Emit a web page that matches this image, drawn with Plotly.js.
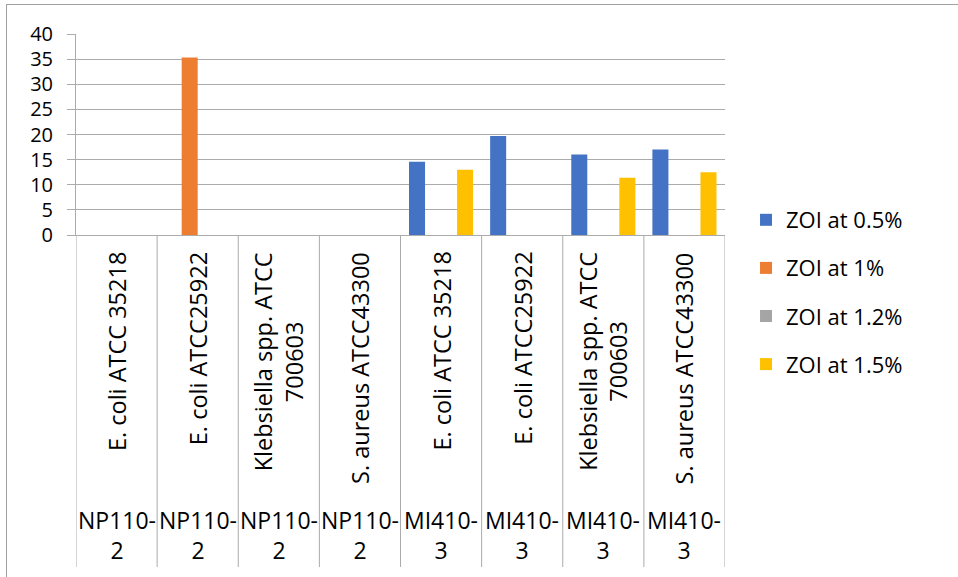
<!DOCTYPE html>
<html>
<head>
<meta charset="utf-8">
<script src="https://cdn.plot.ly/plotly-3.0.1.min.js"></script>
<style>
html,body{margin:0;padding:0;background:#fff;}
#wrap{position:relative;width:958px;height:577px;overflow:hidden;}
#frame{position:absolute;left:6px;top:4px;width:1000px;height:700px;border-left:1px solid #a0a0a0;border-top:1px solid #a0a0a0;}
#chart{position:absolute;left:0;top:0;width:958px;height:577px;}
</style>
</head>
<body>
<div id="wrap"><div id="frame"></div><div id="chart"></div></div>
<script>
// ---- data ----
var groups = ["NP110-2","NP110-2","NP110-2","NP110-2","MI410-3","MI410-3","MI410-3","MI410-3"];
var groupLabels = ["NP110-<br>2","NP110-<br>2","NP110-<br>2","NP110-<br>2","MI410-<br>3","MI410-<br>3","MI410-<br>3","MI410-<br>3"];
var strains = ["E. coli ATCC 35218","E. coli ATCC25922","Klebsiella spp. ATCC 700603","S. aureus ATCC43300",
               "E. coli ATCC 35218","E. coli ATCC25922","Klebsiella spp. ATCC 700603","S. aureus ATCC43300"];
var strainLabels = ["E. coli ATCC 35218","E. coli ATCC25922","Klebsiella spp. ATCC<br>700603","S. aureus ATCC43300",
                    "E. coli ATCC 35218","E. coli ATCC25922","Klebsiella spp. ATCC<br>700603","S. aureus ATCC43300"];
var seriesNames = ["ZOI at 0.5%","ZOI at 1%","ZOI at 1.2%","ZOI at 1.5%"];
var zoi05 = [0, 0, 0, 0, 14.6, 19.7, 16.0, 17.0];
var zoi1  = [0, 35.3, 0, 0, 0, 0, 0, 0];
var zoi12 = [0, 0, 0, 0, 0, 0, 0, 0];
var zoi15 = [0, 0, 0, 0, 13.0, 0, 11.4, 12.5];
var colors = ["#4472C4","#ED7D31","#A5A5A5","#FFC000"];

// ---- build ----
var keys = groups.map(function(g,i){ return g + " | " + strains[i] + " #" + i; });
var allSeries = [zoi05, zoi1, zoi12, zoi15];
var traces = allSeries.map(function(vals, k){
  return {type:"bar", x: keys, y: vals, name: seriesNames[k], legendgroup: "g"+k,
          marker:{color: colors[k]}, hoverinfo:"y+name"};
});

var font = "Open Sans, Liberation Sans, sans-serif";
var grid = "#ababab";
var plotH = 201; // px height of plot area
function py(px){ return (235 - px) / plotH; } // pixel row -> paper y

var shapes = [];
for (var i = 0; i <= keys.length; i++) {
  shapes.push({type:"line", xref:"x", yref:"paper", x0:i-0.5, x1:i-0.5, y0:0, y1:py(567),
               line:{color:grid, width:1}});
}
var annotations = [];
strainLabels.forEach(function(t,i){
  annotations.push({xref:"x", yref:"paper", x:keys[i], y:py(250), xanchor:"center", yanchor:"top",
          text:t, textangle:-90, showarrow:false, align:"center",
          font:{family:font, size:23.5, color:"#000"}});
});
groupLabels.forEach(function(t,i){
  annotations.push({xref:"x", yref:"paper", x:keys[i], y:py(502), xanchor:"center", yanchor:"top",
          text:t, showarrow:false, align:"center", font:{family:font, size:23, color:"#000"}});
});

var layout = {
  width: 958, height: 577,
  margin: {l:76, r:233, t:34, b:342, pad:0},
  paper_bgcolor: "rgba(0,0,0,0)", plot_bgcolor: "rgba(0,0,0,0)",
  font: {family: font, size: 22, color: "#000"},
  barmode: "group", bargap: 0.21, bargroupgap: 0,
  showlegend: true,
  legend: {x: 1.0324, xanchor:"left", y: py(199), yanchor:"top", traceorder:"grouped",
           tracegroupgap: 16.5, font:{family:font, size:22, color:"#000"}, bgcolor:"rgba(0,0,0,0)"},
  xaxis: {type:"category", range:[-0.5, 7.5], tickvals: keys, showticklabels:false,
          ticks:"", showgrid:false, showline:true, linecolor:grid, linewidth:1, zeroline:false},
  yaxis: {range:[0,40], dtick:5, tick0:0, showgrid:true, gridcolor:grid, gridwidth:1,
          ticks:"outside", ticklen:8, tickcolor:grid, showline:true, linecolor:grid, linewidth:1,
          zeroline:false, tickfont:{family:font, size:20, color:"#000"}, ticklabelstandoff: 10},
  shapes: shapes,
  annotations: annotations
};
Plotly.newPlot("chart", traces, layout, {displayModeBar:false, staticPlot:true});
</script>
</body>
</html>
